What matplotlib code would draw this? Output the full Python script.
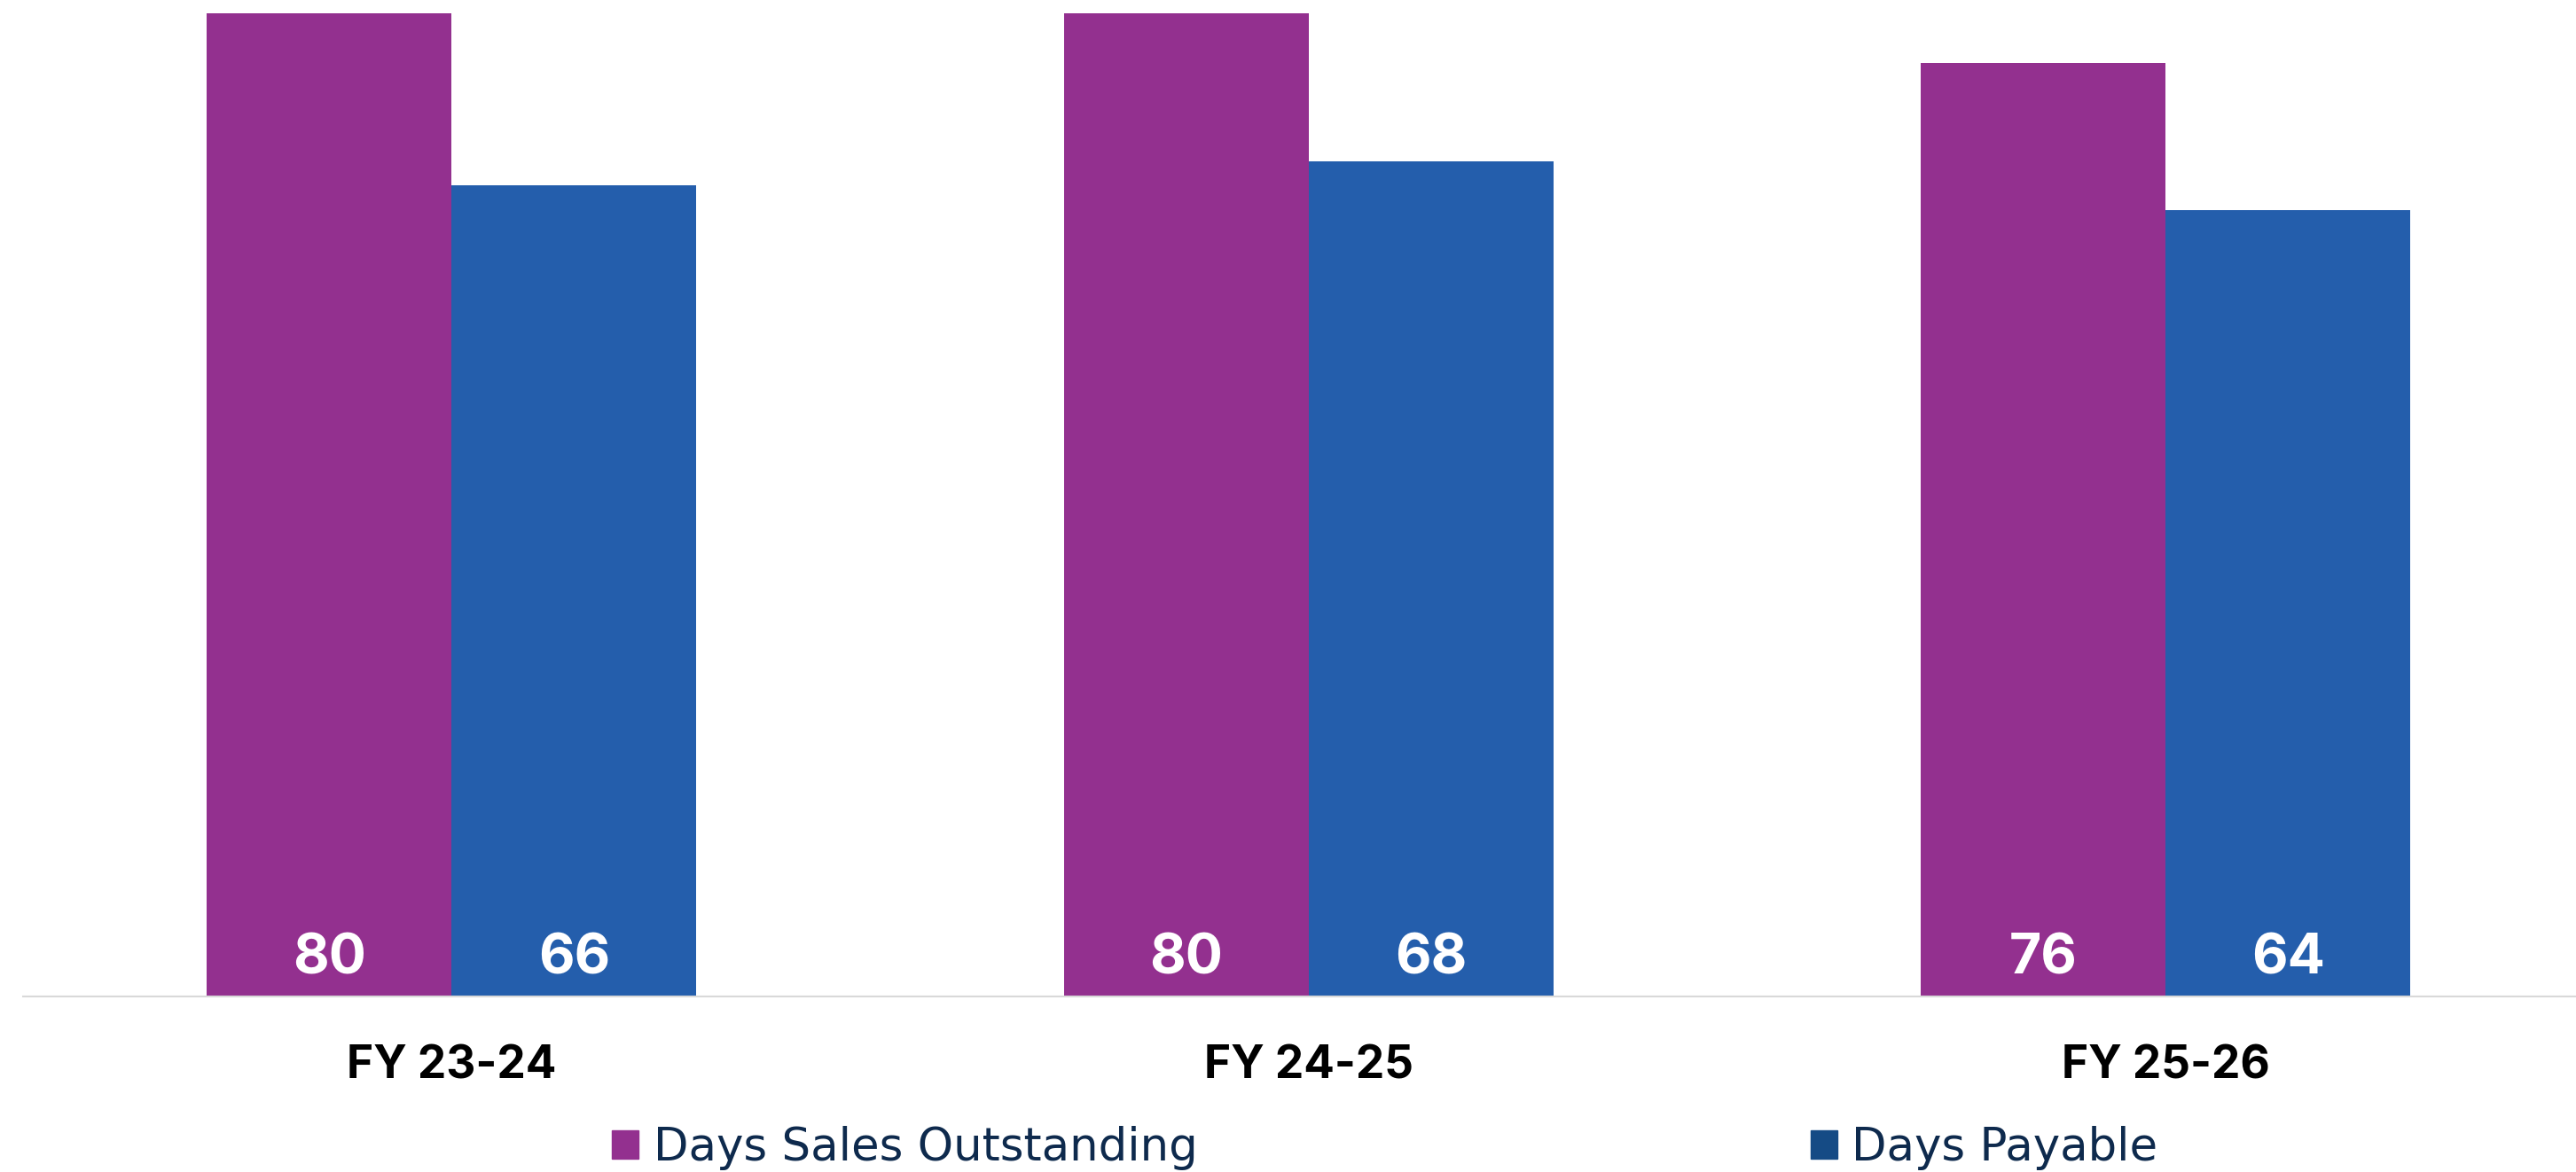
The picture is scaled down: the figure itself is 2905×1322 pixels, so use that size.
import matplotlib.pyplot as plt
import numpy as np
from matplotlib.patches import Patch

years = ["FY 23-24", "FY 24-25", "FY 25-26"]
dso = [80, 80, 76]
days_payable = [66, 68, 64]

purple = "#93308f"
blue = "#245eac"
blue_key = "#154b85"
navy = "#0e2a4d"

plt.rcParams['font.family'] = ['Inter', 'DejaVu Sans']

fig = plt.figure(figsize=(29.05, 13.22), dpi=100)
ax = fig.add_axes([26 / 2905, 198 / 1322, 2879 / 2905, 1124 / 1322])

x = np.arange(len(years))
w = 0.2857
b1 = ax.bar(x - w / 2, dso, w, color=purple)
b2 = ax.bar(x + w / 2, days_payable, w, color=blue)

# value labels sit near the bottom of each bar
for bars, vals in [(b1, dso), (b2, days_payable)]:
    for rect, v in zip(bars, vals):
        ax.annotate(str(v), xy=(rect.get_x() + rect.get_width() / 2, 0),
                    xytext=(0, 30), textcoords='offset points',
                    ha='center', va='center', color='white',
                    fontsize=45, fontweight='bold')

ax.set_xlim(-0.5, 2.479)
ax.set_ylim(0, 81.1)
ax.set_xticks(x)
ax.set_xticklabels(years, fontsize=37, fontweight='bold', color='black')
ax.tick_params(axis='x', length=0, pad=39)
ax.set_yticks([])
for s in ['top', 'left', 'right']:
    ax.spines[s].set_visible(False)
ax.spines['bottom'].set_color('#d9d9d9')
ax.spines['bottom'].set_linewidth(1.5)

handles = [Patch(color=purple), Patch(color=blue_key)]
leg = fig.legend(handles, ["Days Sales Outstanding", "Days Payable"],
                 loc='center left', bbox_to_anchor=(690 / 2905, 27 / 1322),
                 ncol=2, frameon=False, borderpad=0, borderaxespad=0,
                 prop={'family': 'DejaVu Sans', 'size': 37},
                 handlelength=0.58, handleheight=0.58,
                 handletextpad=0.33, columnspacing=13.45)
for t in leg.get_texts():
    t.set_color(navy)

fig.savefig("out.png", dpi=100)
